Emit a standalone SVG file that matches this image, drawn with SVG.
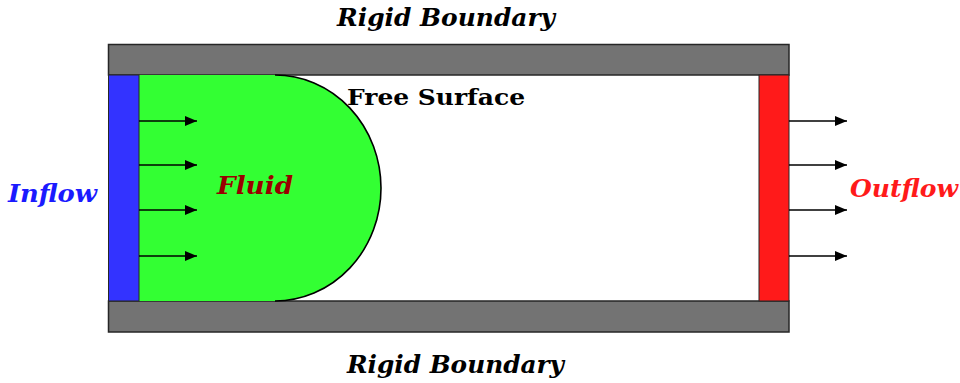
<svg xmlns="http://www.w3.org/2000/svg" width="960" height="383" viewBox="0 0 960 383">
  <style>
    .wall { fill: #737373; stroke: #262626; stroke-width: 1.5; }
    .lbl { font-family: "DejaVu Serif", "Liberation Serif", serif; font-weight: bold; font-style: italic; font-size: 24px; }
    .flow { stroke: #000; stroke-width: 1.3; fill: none; marker-end: url(#ah); }
  </style>
  <defs>
    <marker id="ah" viewBox="0 0 12 10" refX="12" refY="5" markerWidth="12" markerHeight="10" markerUnits="userSpaceOnUse" orient="auto">
      <path d="M0,0 L12,5 L0,10 Z" fill="#000"/>
    </marker>
  </defs>

  <rect width="960" height="383" fill="#fff"/>

  <!-- channel walls -->
  <g id="wall-top">
    <rect class="wall" x="108.5" y="44.5" width="680.5" height="30.5"/>
  </g>
  <g id="wall-bottom">
    <rect class="wall" x="108.5" y="301" width="680.5" height="31"/>
  </g>

  <!-- fluid body with curved free surface -->
  <g id="fluid">
    <path d="M139,75 L275,75 A106,113 0 0 1 275,301 L139,301 Z" fill="#33ff33"/>
    <path d="M275,75 A106,113 0 0 1 275,301" fill="none" stroke="#000" stroke-width="1.6"/>
    <text class="lbl" x="217" y="194" fill="#990000" textLength="76" lengthAdjust="spacingAndGlyphs">Fluid</text>
  </g>

  <!-- inflow boundary -->
  <g id="inflow">
    <rect x="108.5" y="75" width="30.5" height="226" fill="#3333ff" stroke="#262626" stroke-width="1"/>
    <text class="lbl" x="8" y="202" fill="#1a1aff" textLength="89" lengthAdjust="spacingAndGlyphs">Inflow</text>
  </g>

  <!-- outflow boundary -->
  <g id="outflow">
    <rect x="759" y="75" width="30" height="226" fill="#ff1a1a" stroke="#262626" stroke-width="1"/>
    <text class="lbl" x="850" y="197" fill="#ff1a1a" textLength="108" lengthAdjust="spacingAndGlyphs">Outflow</text>
  </g>

  <!-- labels -->
  <g id="label-top">
    <text class="lbl" x="337" y="26" fill="#000" textLength="218" lengthAdjust="spacingAndGlyphs">Rigid Boundary</text>
  </g>
  <g id="label-bottom">
    <text class="lbl" x="347" y="373" fill="#000" textLength="217" lengthAdjust="spacingAndGlyphs">Rigid Boundary</text>
  </g>
  <g id="label-surface">
    <text x="347" y="105" fill="#000" font-family="DejaVu Serif, Liberation Serif, serif" font-weight="bold" font-size="23" textLength="178" lengthAdjust="spacingAndGlyphs">Free Surface</text>
  </g>

  <!-- velocity arrows -->
  <g id="connectors">
    <line class="flow" x1="139" y1="121" x2="197" y2="121"/>
    <line class="flow" x1="139" y1="165" x2="197" y2="165"/>
    <line class="flow" x1="139" y1="210" x2="197" y2="210"/>
    <line class="flow" x1="139" y1="256" x2="197" y2="256"/>
    <line class="flow" x1="789" y1="121" x2="847" y2="121"/>
    <line class="flow" x1="789" y1="165" x2="847" y2="165"/>
    <line class="flow" x1="789" y1="210" x2="847" y2="210"/>
    <line class="flow" x1="789" y1="256" x2="847" y2="256"/>
  </g>
</svg>
